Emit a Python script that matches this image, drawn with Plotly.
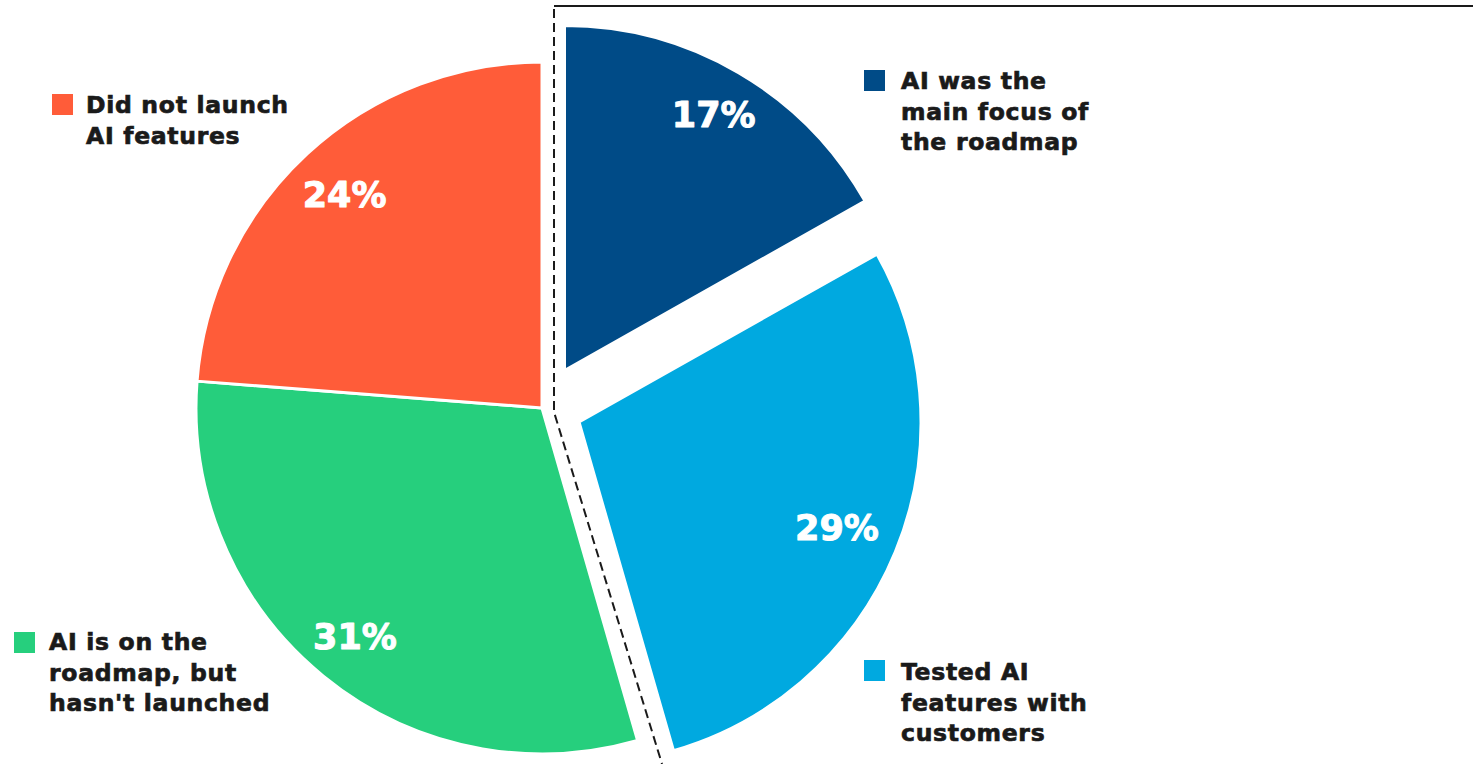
import plotly.graph_objects as go

# ---- data ----
categories = ["AI was the main focus of the roadmap",
              "Tested AI features with customers",
              "AI is on the roadmap, but hasn't launched",
              "Did not launch AI features"]
values = [17, 29, 31, 24]
pct_labels = ["17%", "29%", "31%", "24%"]
legend_lines = [["AI was the", "main focus of", "the roadmap"],
                ["Tested AI", "features with", "customers"],
                ["AI is on the", "roadmap, but", "hasn't launched"],
                ["Did not launch", "AI features"]]
colors = ["#004B87", "#00A9E0", "#26CF7D", "#FF5C39"]

W, H = 1473, 764
CLEAR = "rgba(0,0,0,0)"
INK = "#1a1a1a"
FONT = "DejaVu Sans"
HEAVY = "stroke:{c};stroke-width:{w}px;letter-spacing:{ls}px"


def heavy(txt, c, w=0.7, ls=0.7):
    return f"<span style='{HEAVY.format(c=c, w=w, ls=ls)}'>{txt}</span>"


def dom(cx, cy, r):
    return dict(x=[(cx - r) / W, (cx + r) / W],
                y=[max(0.0, 1 - (cy + r) / H), min(1.0, 1 - (cy - r) / H)])


# groups: (visible slice indices, pie centre/radius in px)
groups = [
    ([2, 3], (542, 408, 346)),   # main body (green, orange)
    ([0], (564.5, 370.5, 345)),  # exploded dark blue
    ([1], (579, 422, 342)),      # exploded light blue
]
# radial placement of the percentage label per slice (via hole size)
label_hole = {0: 0.715, 1: 0.63, 2: 0.71, 3: 0.68}

fig = go.Figure()
for vis, (cx, cy, r) in groups:
    d = dom(cx, cy, r)
    fig.add_trace(go.Pie(
        values=values, labels=categories, sort=False, direction="clockwise",
        rotation=0, domain=d, textinfo="none", hoverinfo="skip",
        marker=dict(colors=[colors[i] if i in vis else CLEAR for i in range(4)],
                    line=dict(color="white",
                              width=[3 if i in vis else 0 for i in range(4)])),
        showlegend=False,
    ))
    for i in vis:
        fig.add_trace(go.Pie(
            values=values, labels=categories, sort=False, direction="clockwise",
            rotation=0, domain=d, hole=label_hole[i], hoverinfo="skip",
            text=[heavy(pct_labels[k], "white", 1.0, 0) if k == i else "" for k in range(4)],
            textinfo="text", textposition="inside",
            insidetextorientation="horizontal",
            insidetextfont=dict(family=FONT, size=35, color="white", weight="bold"),
            marker=dict(colors=[CLEAR] * 4, line=dict(width=0)),
            showlegend=False,
        ))

# ---- legend-like labels ----
label_pos = {  # square (x0,y0) and text (x,top) in px
    0: ((864, 70), (899, 64.5)),
    1: ((864, 660), (899, 656)),
    2: ((14, 632), (47, 626)),
    3: ((52, 94), (84, 88.5)),
}
shapes = []
annotations = []
for i, ((sx, sy), (tx, ty)) in label_pos.items():
    shapes.append(dict(type="rect", xref="paper", yref="paper",
                       x0=sx / W, x1=(sx + 21) / W, y0=1 - sy / H, y1=1 - (sy + 21) / H,
                       fillcolor=colors[i], line=dict(width=0)))
    annotations.append(dict(xref="paper", yref="paper", x=tx / W, y=1 - ty / H,
                            xanchor="left", yanchor="top", align="left",
                            showarrow=False,
                            text="<br>".join(heavy(t, INK) for t in legend_lines[i]),
                            font=dict(family=FONT, size=23.5, color=INK, weight="bold")))

# frame lines around exploded slices
shapes.append(dict(type="line", xref="paper", yref="paper",
                   x0=554 / W, x1=1.0, y0=1 - 6 / H, y1=1 - 6 / H,
                   line=dict(color=INK, width=2)))
shapes.append(dict(type="path", xref="paper", yref="paper",
                   path=f"M {554/W} {1-9/H} L {554/W} {1-412/H} L {662/W} {0}",
                   line=dict(color=INK, width=2, dash="9px,5px")))

fig.update_layout(width=W, height=H, margin=dict(l=0, r=0, t=0, b=0),
                  paper_bgcolor="white", plot_bgcolor="white",
                  showlegend=False, shapes=shapes, annotations=annotations,
                  font=dict(family=FONT))
fig.write_html("out.html", config={"displayModeBar": False},
               post_script="document.body.style.margin='0';document.body.style.overflow='hidden';")
